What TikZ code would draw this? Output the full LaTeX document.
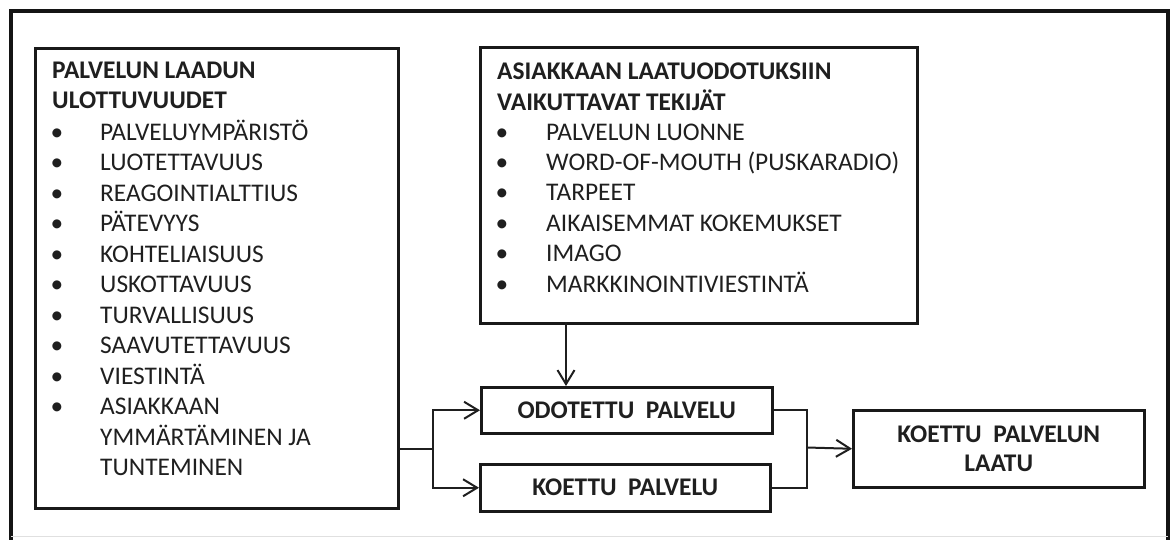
\documentclass[tikz,border=0pt]{standalone}
\usepackage{fontspec}
\setmainfont{Carlito}
\usetikzlibrary{arrows.meta}
\begin{document}
\begin{tikzpicture}[x=1pt,y=-1pt,
  box/.style={draw=black!90, line width=2.5pt, rectangle, inner sep=0pt, anchor=north west},
  mainfont/.style={font=\fontsize{25.4}{30.4}\selectfont},
  txt/.style={mainfont, inner sep=0pt, anchor=base west, text=black!88},
  bul/.style={mainfont, inner sep=0pt, anchor=base, text=black!88},
  con/.style={line width=2pt, draw=black!88},
  arr/.style={con, -{Straight Barb[length=14pt,width=17pt]}}]
\useasboundingbox (0,0) rectangle (1171,539);
% outer frame
\draw[line width=4.5pt, black!92] (11,545) -- (11,11) -- (1168,11) -- (1168,545);
\draw[line width=1pt, black!12] (11,536) -- (1168,536);
% boxes
\node[box, minimum width=363pt, minimum height=460pt] (lbox) at (34,47) {};
\node[box, minimum width=437pt, minimum height=276pt] (rbox) at (479,46) {};
\node[box, minimum width=291pt, minimum height=46pt, mainfont, text=black!88] (odo) at (480,386) {\bfseries ODOTETTU\ \ PALVELU};
\node[box, minimum width=290pt, minimum height=47pt, mainfont, text=black!88] (koe) at (479,463) {\bfseries KOETTU\ \ PALVELU};
\node[box, minimum width=291pt, minimum height=77pt, font=\fontsize{25.4}{29}\selectfont, text=black!88, align=center] (res) at (852,409) {\bfseries KOETTU\ \ PALVELUN\\\bfseries LAATU};
% left box text
\node[txt] (lt1) at (52,78) {\bfseries PALVELUN LAADUN};
\node[txt] (lt2) at (52,108) {\bfseries ULOTTUVUUDET};
\foreach \t [count=\i from 0] in {PALVELUYMPÄRISTÖ,LUOTETTAVUUS,REAGOINTIALTTIUS,PÄTEVYYS,KOHTELIAISUUS,USKOTTAVUUS,TURVALLISUUS,SAAVUTETTAVUUS,VIESTINTÄ,ASIAKKAAN}{
  \node[bul] (lb\i) at (57,140+30.5*\i) {•};
  \node[txt] (li\i) at (100,140+30.5*\i) {\t};
}
\node[txt] (li10) at (100,445) {YMMÄRTÄMINEN JA};
\node[txt] (li11) at (100,475.5) {TUNTEMINEN};
% right top box text
\node[txt] (rt1) at (497,79) {\bfseries ASIAKKAAN LAATUODOTUKSIIN};
\node[txt] (rt2) at (497,110) {\bfseries VAIKUTTAVAT TEKIJÄT};
\foreach \t [count=\i from 0] in {PALVELUN LUONNE,WORD-OF-MOUTH (PUSKARADIO),TARPEET,AIKAISEMMAT KOKEMUKSET,IMAGO,MARKKINOINTIVIESTINTÄ}{
  \node[bul] (rb\i) at (502,140+30.4*\i) {•};
  \node[txt] (ri\i) at (546,140+30.4*\i) {\t};
}
% connectors
\coordinate (j1) at (433,449);
\coordinate (j2) at (807,447.5);
\coordinate (t1) at (566,322);
\draw[arr] (t1) -- (t1 |- odo.north);
\draw[con] (lbox.east |- j1) -- (j1);
\draw[arr] (j1) |- (odo.west);
\draw[arr] (j1) |- (koe.west);
\draw[con] (odo.east) -| (j2);
\draw[con] (koe.east) -| (j2);
\draw[arr] (j2) -- (res.west);
\end{tikzpicture}
\end{document}
